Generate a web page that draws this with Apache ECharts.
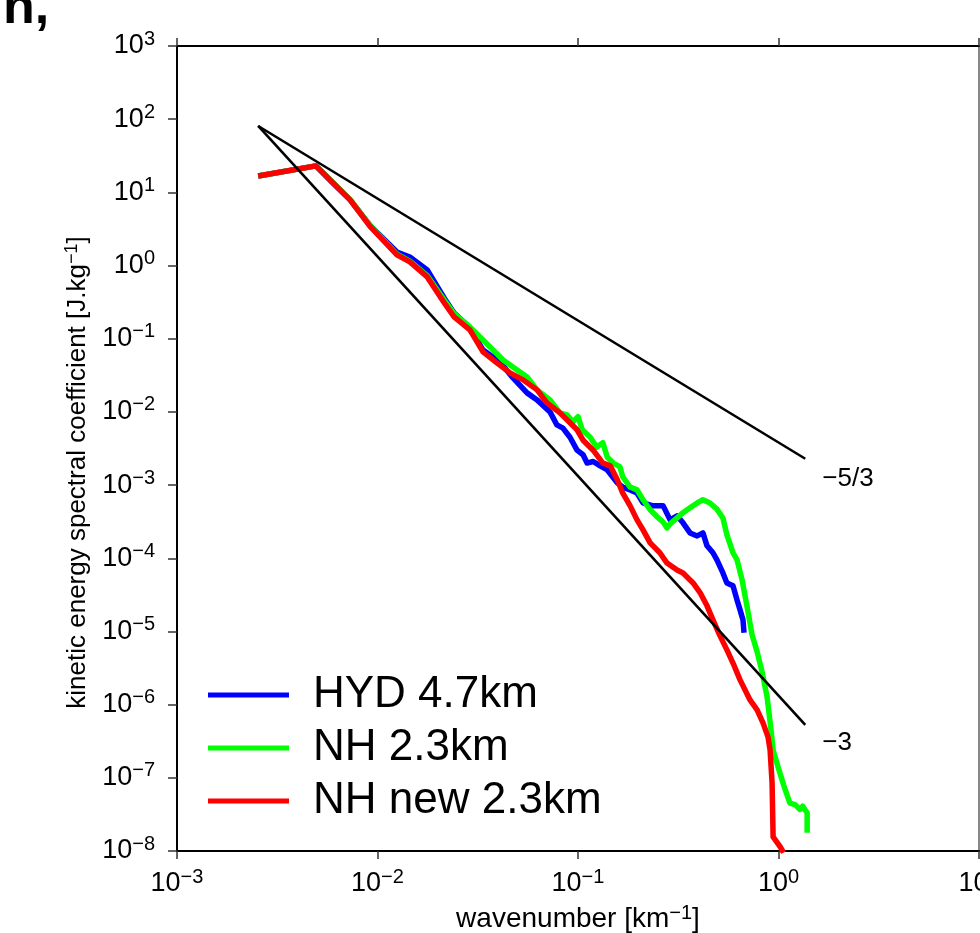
<!DOCTYPE html>
<html>
<head>
<meta charset="utf-8">
<script src="https://cdn.jsdelivr.net/npm/echarts@6/dist/echarts.min.js"></script>
<style>
  html, body { margin: 0; padding: 0; background: #fff; }
  #chart { width: 980px; height: 933px; }
</style>
</head>
<body>
<div id="chart"></div>
<script>
// spectra: wavenumber [1/km] and energy [J/kg]
var blueK = [0.00254, 0.00493, 0.0060, 0.0073, 0.0092, 0.0125, 0.0145, 0.0177, 0.0215, 0.0241, 0.0289, 0.0336, 0.0408, 0.0474, 0.0557, 0.0625, 0.0725, 0.0785, 0.0841, 0.0912, 0.0989, 0.106, 0.111, 0.119, 0.129, 0.140, 0.157, 0.167, 0.182, 0.197, 0.211, 0.237, 0.266, 0.288, 0.312, 0.334, 0.362, 0.393, 0.420, 0.440, 0.471, 0.493, 0.528, 0.553, 0.593, 0.621, 0.643, 0.665, 0.673];
var blueE = [16.7, 23.0, 13.4, 7.9, 3.5, 1.53, 1.31, 0.87, 0.36, 0.225, 0.141, 0.070, 0.048, 0.0291, 0.0182, 0.0146, 0.0100, 0.00664, 0.0060, 0.0045, 0.0030, 0.0026, 0.0020, 0.0021, 0.00183, 0.00161, 0.00107, 9.4e-4, 8.6e-4, 7.8e-4, 5.7e-4, 5.2e-4, 5.2e-4, 3.35e-4, 3.8e-4, 3.05e-4, 2.22e-4, 2.02e-4, 2.22e-4, 1.48e-4, 1.19e-4, 9.5e-5, 6.3e-5, 4.6e-5, 4.2e-5, 2.7e-5, 1.97e-5, 1.44e-5, 9.6e-6];

var greenK = [0.00254, 0.00493, 0.0060, 0.0073, 0.0092, 0.0125, 0.0145, 0.0177, 0.0215, 0.0241, 0.0289, 0.0377, 0.0423, 0.0497, 0.0557, 0.0625, 0.0725, 0.0813, 0.0881, 0.0944, 0.100, 0.105, 0.115, 0.124, 0.133, 0.140, 0.150, 0.162, 0.167, 0.182, 0.197, 0.211, 0.229, 0.248, 0.266, 0.278, 0.288, 0.312, 0.334, 0.362, 0.393, 0.420, 0.455, 0.493, 0.528, 0.553, 0.593, 0.621, 0.658, 0.697, 0.738, 0.782, 0.828, 0.877, 0.918, 0.940, 0.995, 1.06, 1.14, 1.21, 1.28, 1.32, 1.39, 1.39];
var greenE = [16.7, 23.0, 13.6, 8.0, 3.5, 1.43, 1.15, 0.73, 0.34, 0.22, 0.145, 0.0703, 0.0513, 0.0375, 0.0301, 0.0200, 0.0146, 0.0097, 0.0091, 0.0073, 0.0086, 0.0057, 0.0045, 0.0033, 0.0038, 0.0024, 0.0020, 0.00177, 0.0013, 9.4e-4, 8.6e-4, 6.3e-4, 4.6e-4, 3.7e-4, 3.1e-4, 2.6e-4, 2.95e-4, 3.56e-4, 4.2e-4, 4.9e-4, 5.7e-4, 6.3e-4, 5.7e-4, 4.7e-4, 3.56e-4, 2.09e-4, 1.19e-4, 9.5e-5, 5.1e-5, 2.17e-5, 9.0e-6, 5.3e-6, 2.8e-6, 1.28e-6, 4.5e-7, 2.4e-7, 1.41e-7, 8.0e-8, 4.5e-8, 4.3e-8, 3.7e-8, 4.1e-8, 3.3e-8, 1.77e-8];

var redK = [0.00254, 0.00493, 0.0060, 0.0073, 0.0092, 0.0125, 0.0145, 0.0177, 0.0215, 0.0241, 0.0289, 0.0336, 0.0394, 0.0458, 0.0532, 0.0625, 0.0700, 0.0813, 0.0912, 0.0989, 0.106, 0.119, 0.133, 0.145, 0.157, 0.167, 0.182, 0.197, 0.211, 0.229, 0.256, 0.278, 0.312, 0.334, 0.375, 0.406, 0.440, 0.471, 0.511, 0.553, 0.593, 0.643, 0.721, 0.782, 0.838, 0.887, 0.908, 0.929, 0.940, 1.02, 1.06];
var redE = [16.7, 23.0, 13.4, 7.9, 3.4, 1.40, 1.12, 0.70, 0.31, 0.199, 0.132, 0.066, 0.0467, 0.0341, 0.0274, 0.0200, 0.0133, 0.0097, 0.0071, 0.0057, 0.0041, 0.0030, 0.0020, 0.00183, 0.00118, 7.8e-4, 5.2e-4, 3.35e-4, 2.44e-4, 1.62e-4, 1.19e-4, 8.6e-5, 6.9e-5, 6.3e-5, 4.6e-5, 3.4e-5, 2.24e-5, 1.44e-5, 8.7e-6, 5.6e-6, 3.7e-6, 2.18e-6, 1.16e-6, 8.5e-7, 5.6e-7, 3.6e-7, 2.4e-7, 8.5e-8, 1.56e-8, 1.14e-8, 9.5e-9];

// reference slopes -5/3 and -3
var slopeK = [0.00254, 1.36];
var slope53E = [80.7, 0.00229];
var slope3E = [80.7, 5.3e-7];
var slopeNames = ['\u22125/3', '\u22123'];

var seriesNames = ['HYD 4.7km', 'NH 2.3km', 'NH new 2.3km'];
var seriesColors = ['#0000ff', '#00ff00', '#ff0000'];

var FONT = '"Liberation Sans", Arial, Helvetica, sans-serif';

function Pairs(aK, aE) {
    var aOut = [];
    for (var i = 0; i < aK.length; i++) {
        aOut.push([aK[i], aE[i]]);
    }
    return aOut
}

function PowerLabel(v) {
    var e = Math.round(Math.log10(v));
    var s = e < 0 ? '\u2212' + (-e) : '' + e;
    return '{b|10}{s|' + s + '}';
}

// base digits plus raised exponent
var richTick = {
    b: {fontSize: 27, lineHeight: 34, fontFamily: FONT, color: '#000'},
    s: {fontSize: 20, lineHeight: 20, fontFamily: FONT, color: '#000', verticalAlign: 'top'}
};

function NameRich(iSize) {
    return {
        n: {fontSize: iSize, lineHeight: iSize + 4, fontFamily: FONT, color: '#000'},
        s: {fontSize: Math.round(iSize * 0.7), lineHeight: Math.round(iSize * 0.7), fontFamily: FONT, color: '#000', verticalAlign: 'top'}
    }
}

function SpectrumSeries(iIdx, aData) {
    return {
        name: seriesNames[iIdx],
        type: 'line',
        data: aData,
        showSymbol: false,
        symbol: 'none',
        clip: true,
        lineStyle: {color: seriesColors[iIdx], width: 5.5, join: 'round'},
        itemStyle: {color: seriesColors[iIdx]},
        z: 2 + iIdx
    }
}

function SlopeSeries(aE, sLabel, aOffset) {
    return {
        type: 'line',
        data: Pairs(slopeK, aE),
        symbol: 'none',
        lineStyle: {color: '#000', width: 2.6},
        endLabel: {
            show: true, distance: 0, offset: aOffset,
            formatter: sLabel, fontSize: 26, fontFamily: FONT, color: '#000'
        },
        z: 10,
        silent: true
    }
}

var axisLineStyle = {color: '#000', width: 2};
var tickStyle = {color: '#333', width: 1.5};

var option = {
    backgroundColor: '#fff',
    animation: false,
    grid: {left: 177, top: 46, right: 1, bottom: 82, containLabel: false, outerBoundsMode: 'none'},
    legend: {
        orient: 'vertical',
        left: 203,
        top: 668,
        icon: 'rect',
        itemWidth: 81,
        itemHeight: 5,
        itemGap: 9,
        data: seriesNames,
        textStyle: {fontSize: 44, lineHeight: 44, fontFamily: FONT, color: '#000', padding: [0, 0, 0, 19]}
    },
    xAxis: [
        {
            type: 'log', logBase: 10, min: 0.001, max: 10,
            position: 'bottom',
            name: '{n|wavenumber [km}{s|\u22121}{n|]}',
            nameLocation: 'middle',
            nameGap: 52,
            nameTextStyle: {rich: NameRich(28)},
            axisLine: {lineStyle: axisLineStyle},
            axisTick: {show: true, inside: false, length: 8, lineStyle: tickStyle},
            axisLabel: {margin: 16, formatter: PowerLabel, rich: richTick},
            splitLine: {show: false},
            minorTick: {show: false}
        },
        {
            type: 'log', logBase: 10, min: 0.001, max: 10,
            position: 'top',
            axisLine: {lineStyle: axisLineStyle},
            axisTick: {show: true, inside: false, length: 8, lineStyle: tickStyle},
            axisLabel: {show: false},
            splitLine: {show: false}
        }
    ],
    yAxis: [
        {
            type: 'log', logBase: 10, min: 1e-8, max: 1000,
            interval: 1, splitNumber: 11,
            position: 'left',
            name: '{n|kinetic energy spectral coefficient [J.kg}{s|\u22121}{n|]}',
            nameLocation: 'middle',
            nameGap: 80,
            nameRotate: 90,
            nameTextStyle: {padding: [0, 48, 0, 0], rich: NameRich(26)},
            axisLine: {lineStyle: axisLineStyle},
            axisTick: {show: true, inside: false, length: 9, lineStyle: tickStyle},
            axisLabel: {margin: 22, formatter: PowerLabel, rich: richTick},
            splitLine: {show: false},
            minorTick: {show: false}
        },
        {
            type: 'log', logBase: 10, min: 1e-8, max: 1000,
            interval: 1, splitNumber: 11,
            position: 'right',
            axisLine: {lineStyle: {color: '#888', width: 2}},
            axisTick: {show: false},
            axisLabel: {show: false},
            splitLine: {show: false}
        }
    ],
    graphic: [
        {
            type: 'text', left: 3, top: -17,
            style: {text: 'n,', fontSize: 52, fontWeight: 'bold', fontFamily: FONT, fill: '#000'}
        }
    ],
    series: [
        SpectrumSeries(0, Pairs(blueK, blueE)),
        SpectrumSeries(1, Pairs(greenK, greenE)),
        SpectrumSeries(2, Pairs(redK, redE)),
        SlopeSeries(slope53E, slopeNames[0], [17, 20]),
        SlopeSeries(slope3E, slopeNames[1], [17, 18])
    ]
};

var myChart = echarts.init(document.getElementById('chart'));
myChart.setOption(option);
</script>
</body>
</html>
